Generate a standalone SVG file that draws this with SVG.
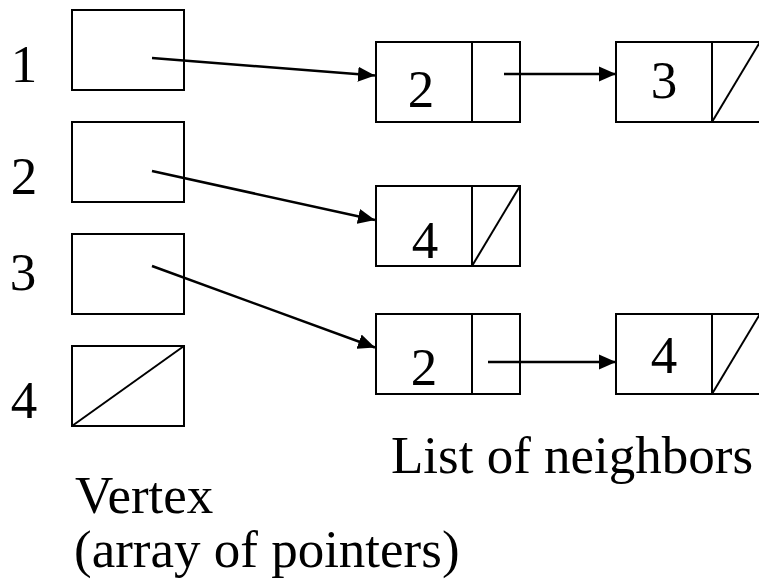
<svg xmlns="http://www.w3.org/2000/svg" width="759" height="586" viewBox="0 0 759 586">
  <style>
    .box { fill: #ffffff; stroke: #000000; stroke-width: 2; }
    .ln { fill: none; stroke: #000000; stroke-width: 2; }
    .edge { fill: none; stroke: #000000; stroke-width: 2.5; }
    .t { font-family: "Liberation Serif", "Times New Roman", serif; font-size: 53px; fill: #000000; }
    .c { text-anchor: middle; }
  </style>
  <defs>
    <marker id="arrow" markerUnits="userSpaceOnUse" markerWidth="18" markerHeight="16" refX="17" refY="8" orient="auto">
      <path d="M0,0.5 L17,8 L0,15.5 Z" fill="#000000"/>
    </marker>
  </defs>
  <rect width="759" height="586" fill="#ffffff"/>

  <!-- vertex array -->
  <g id="v1">
    <text class="t c" x="24" y="82">1</text>
    <rect class="box" x="72" y="10" width="112" height="80"/>
  </g>
  <g id="v2">
    <text class="t c" x="24" y="194">2</text>
    <rect class="box" x="72" y="122" width="112" height="80"/>
  </g>
  <g id="v3">
    <text class="t c" x="23" y="290">3</text>
    <rect class="box" x="72" y="234" width="112" height="80"/>
  </g>
  <g id="v4">
    <text class="t c" x="24" y="418">4</text>
    <rect class="box" x="72" y="346" width="112" height="80"/>
    <line class="ln" x1="72" y1="426" x2="184" y2="346"/>
  </g>

  <!-- adjacency list nodes -->
  <g id="n1a">
    <rect class="box" x="376" y="42" width="144" height="80"/>
    <line class="ln" x1="472" y1="42" x2="472" y2="122"/>
    <text class="t c" x="421" y="107">2</text>
  </g>
  <g id="n1b">
    <rect class="box" x="616" y="42" width="144" height="80"/>
    <line class="ln" x1="712" y1="42" x2="712" y2="122"/>
    <line class="ln" x1="712" y1="122" x2="760" y2="42"/>
    <text class="t c" x="664" y="98">3</text>
  </g>
  <g id="n2a">
    <rect class="box" x="376" y="186" width="144" height="80"/>
    <line class="ln" x1="472" y1="186" x2="472" y2="266"/>
    <line class="ln" x1="472" y1="266" x2="520" y2="186"/>
    <text class="t c" x="425" y="258">4</text>
  </g>
  <g id="n3a">
    <rect class="box" x="376" y="314" width="144" height="80"/>
    <line class="ln" x1="472" y1="314" x2="472" y2="394"/>
    <text class="t c" x="424" y="385">2</text>
  </g>
  <g id="n3b">
    <rect class="box" x="616" y="314" width="144" height="80"/>
    <line class="ln" x1="712" y1="314" x2="712" y2="394"/>
    <line class="ln" x1="712" y1="394" x2="760" y2="314"/>
    <text class="t c" x="664" y="373">4</text>
  </g>

  <!-- pointers -->
  <g id="edges">
    <line class="edge" x1="152" y1="58" x2="375" y2="75.5" marker-end="url(#arrow)"/>
    <line class="edge" x1="152" y1="171" x2="375" y2="220" marker-end="url(#arrow)"/>
    <line class="edge" x1="152" y1="266" x2="375" y2="347.5" marker-end="url(#arrow)"/>
    <line class="edge" x1="504" y1="74" x2="616" y2="74" marker-end="url(#arrow)"/>
    <line class="edge" x1="488" y1="362" x2="616" y2="362" marker-end="url(#arrow)"/>
  </g>

  <!-- captions -->
  <text class="t" x="391" y="473">List of neighbors</text>
  <text class="t" x="75" y="513">Vertex</text>
  <text class="t" x="74" y="567">(array of pointers)</text>
</svg>
